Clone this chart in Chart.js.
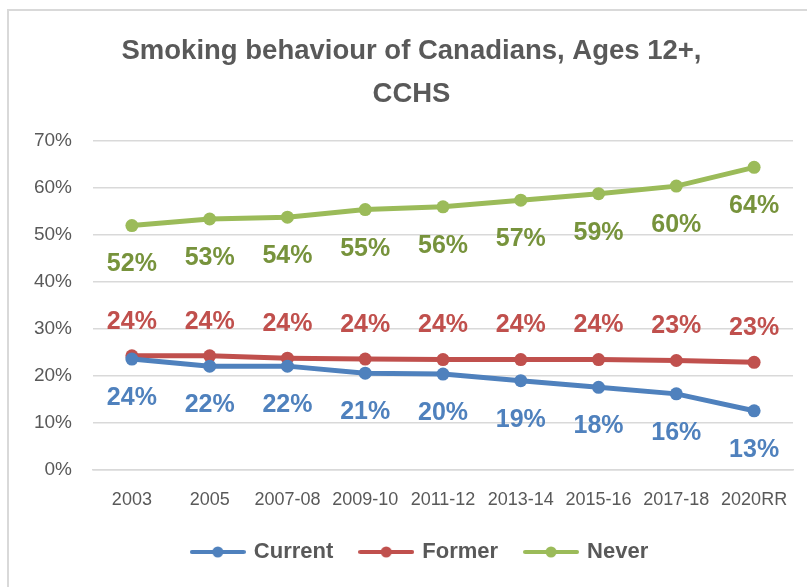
<!DOCTYPE html>
<html>
<head>
<meta charset="utf-8">
<script src="https://cdn.jsdelivr.net/npm/chart.js@4.4.0/dist/chart.umd.min.js"></script>
<style>
  html, body { margin: 0; padding: 0; background: #fff; }
  #wrap { position: relative; width: 807px; height: 587px; overflow: hidden; }
  #frame { position: absolute; left: 7px; top: 9px; width: 820px; height: 600px;
           border-top: 2px solid #d9d9d9; border-left: 2px solid #d9d9d9; pointer-events: none; }
</style>
</head>
<body>
<div id="wrap">
  <canvas id="chartContainer" width="807" height="587"></canvas>
  <div id="frame"></div>
</div>
<script>
// values (percent)
const years = ['2003', '2005', '2007-08', '2009-10', '2011-12', '2013-14', '2015-16', '2017-18', '2020RR']
const current = [23.6, 22.1, 22.1, 20.6, 20.4, 19.0, 17.6, 16.2, 12.6]
const former = [24.3, 24.3, 23.8, 23.6, 23.5, 23.5, 23.5, 23.3, 22.9]
const never = [52.0, 53.4, 53.8, 55.4, 56.0, 57.4, 58.8, 60.4, 64.4]
const yTicks = [0, 10, 20, 30, 40, 50, 60, 70]

const FONT = '"Liberation Sans", Arial, sans-serif'
const GRAY = '#595959'

function legendIcon(color) {
    const c = document.createElement('canvas')
    c.width = 56
    c.height = 14
    const g = c.getContext('2d')
    g.strokeStyle = color
    g.lineWidth = 4
    g.lineCap = 'round'
    g.beginPath()
    g.moveTo(2, 7)
    g.lineTo(54, 7)
    g.stroke()
    g.fillStyle = color
    g.beginPath()
    g.arc(28, 7, 5.5, 0, Math.PI * 2)
    g.fill()
    return c
}

// labels above / below each point, like Excel data labels
const pointLabels = {
    id: 'pointLabels',
    afterLayout(chart) {
        // legend sits a little right of centre in the original
        chart.legend.left += 9
        chart.legend.right += 9
    },
    afterDatasetsDraw(chart) {
        const ctx = chart.ctx
        ctx.save()
        ctx.font = 'bold 25px ' + FONT
        ctx.textAlign = 'center'
        ctx.textBaseline = 'middle'
        chart.data.datasets.forEach((ds, i) => {
            const meta = chart.getDatasetMeta(i)
            meta.data.forEach((pt, j) => {
                ctx.fillStyle = ds.labelColor
                ctx.fillText(Math.round(ds.data[j]) + '%', pt.x, pt.y + ds.labelOffset)
            })
        })
        ctx.restore()
    }
}

const data = {
    labels: years,
    datasets: [{
        label: 'Current',
        data: current,
        borderColor: '#4F81BD',
        backgroundColor: '#4F81BD',
        labelColor: '#4F81BD',
        labelOffset: 39,
        legendStyle: legendIcon('#4F81BD')
    }, {
        label: 'Former',
        data: former,
        borderColor: '#C0504D',
        backgroundColor: '#C0504D',
        labelColor: '#C0504D',
        labelOffset: -34,
        legendStyle: legendIcon('#C0504D')
    }, {
        label: 'Never',
        data: never,
        borderColor: '#9BBB59',
        backgroundColor: '#9BBB59',
        labelColor: '#77933C',
        labelOffset: 39,
        legendStyle: legendIcon('#9BBB59')
    }]
}

const config = {
    type: 'line',
    data: data,
    plugins: [pointLabels],
    options: {
        responsive: false,
        animation: false,
        layout: { padding: { left: 30, right: 14, top: 0, bottom: 14 } },
        elements: {
            line: { borderWidth: 5, tension: 0 },
            point: { pointStyle: 'circle', radius: 6.5, hoverRadius: 6.5, borderWidth: 0 }
        },
        scales: {
            x: {
                offset: true,
                grid: { display: false, drawTicks: false },
                border: { display: true, color: '#d9d9d9', width: 1.5 },
                ticks: { color: GRAY, font: { family: FONT, size: 18 }, padding: 19, maxRotation: 0, autoSkip: false },
                afterFit(scale) { scale.height = 43 }
            },
            y: {
                min: 0,
                max: 70,
                afterBuildTicks(scale) { scale.ticks = yTicks.map(v => ({ value: v })) },
                grid: { color: '#d9d9d9', lineWidth: 1.5, drawTicks: false },
                border: { display: false },
                ticks: { color: GRAY, font: { family: FONT, size: 19 }, padding: 21, callback: v => v + '%' },
                afterFit(scale) { scale.width = 63 }
            }
        },
        plugins: {
            title: {
                display: true,
                text: ['Smoking behaviour of Canadians, Ages 12+,', 'CCHS'],
                color: GRAY,
                font: { family: FONT, size: 27.5, weight: 'bold', lineHeight: 43 / 27.5 },
                padding: { top: 29.5, bottom: 25.5 }
            },
            legend: {
                position: 'bottom',
                labels: {
                    usePointStyle: true,
                    pointStyleWidth: 50,
                    padding: 28,
                    color: GRAY,
                    font: { family: FONT, size: 22, weight: 'bold' },
                    generateLabels(chart) {
                        return chart.data.datasets.map((ds, i) => ({
                            text: ds.label,
                            pointStyle: ds.legendStyle,
                            fillStyle: ds.borderColor,
                            strokeStyle: ds.borderColor,
                            lineWidth: 0,
                            fontColor: GRAY,
                            hidden: false,
                            datasetIndex: i
                        }))
                    }
                }
            },
            tooltip: { enabled: false }
        }
    }
}

var myChart = new Chart(document.getElementById('chartContainer'), config)
</script>
</body>
</html>
